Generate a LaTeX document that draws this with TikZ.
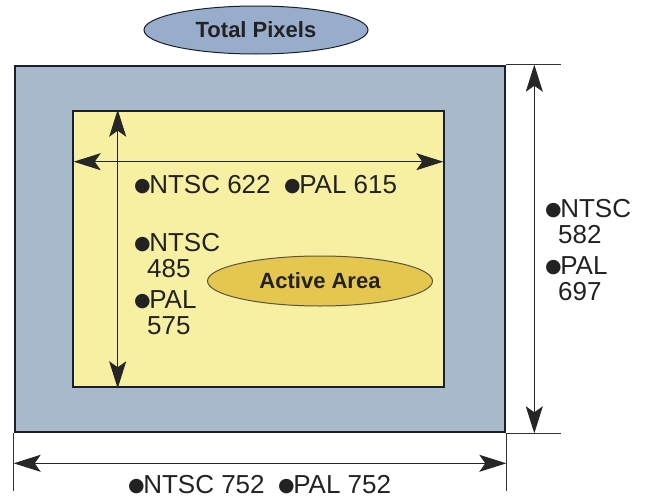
\documentclass[tikz,border=0pt]{standalone}
\usepackage{fontspec}
\setmainfont{Liberation Sans}
\newfontfamily\dejavu{DejaVu Sans}
\usetikzlibrary{arrows.meta,shapes.geometric}
\definecolor{outerfill}{HTML}{A9B9CC}
\definecolor{outerline}{HTML}{1A1F2E}
\definecolor{ellblue}{HTML}{98ADCB}
\definecolor{innerfill}{HTML}{F7EFA2}
\definecolor{ellgold}{HTML}{E5C64E}
\definecolor{textc}{HTML}{222222}
\newcommand{\bul}{\raisebox{1.5pt}{\dejavu\fontsize{19}{19}\selectfont ●}\kern-1.5pt}
\tikzset{
  outerbox/.style={draw=outerline, line width=2.6pt, fill=outerfill, inner sep=0pt},
  innerbox/.style={draw=outerline, line width=2.6pt, fill=innerfill, inner sep=0pt},
  titleell/.style={ellipse, draw=outerline, line width=1pt, fill=ellblue, inner sep=0pt,
     minimum width=224pt, minimum height=48pt, font=\fontsize{22}{22}\selectfont\bfseries, text=textc},
  activeell/.style={ellipse, draw=black!75!yellow, line width=1pt, fill=ellgold, inner sep=0pt,
     minimum width=225pt, minimum height=50pt, font=\fontsize{22}{22}\selectfont\bfseries, text=textc},
  dimline/.style={line width=0.9pt, draw=black!80},
  dimarrow/.style={line width=0.9pt, draw=black!85, {Stealth[length=27pt,width=17pt,inset=6pt]}-{Stealth[length=27pt,width=17pt,inset=6pt]}},
  lbl/.style={anchor=base west, inner sep=0pt, text=textc,
     font=\fontsize{26}{26}\selectfont},
}
\begin{document}
\begin{tikzpicture}[x=1pt,y=-1pt]
\useasboundingbox (0,0) rectangle (648,498);
\fill[white] (0,0) rectangle (648,498);
% boxes
\node[outerbox, minimum width=490pt, minimum height=366pt] (outer) at (260,249) {};
\node[innerbox, minimum width=371pt, minimum height=276pt] (inner) at (258.5,249) {};
% ellipses
\node[titleell] (total) at (256,30) {Total Pixels};
\node[activeell] (active) at (320,281) {Active Area};
% extension lines
\coordinate (tr) at (outer.north east);
\coordinate (br) at (outer.south east);
\coordinate (bl) at (outer.south west);
\path (tr) ++(55,0) coordinate (trx);
\path (br) ++(55,0) coordinate (brx);
\path (bl) ++(0,58) coordinate (bly);
\path (br) ++(0,58) coordinate (bry);
\draw[dimline] (tr) -- (trx);
\draw[dimline] (br) -- (brx);
\draw[dimline] (bl) -- (bly);
\draw[dimline] (br) -- (bry);
% outer dimension arrows
\path (tr) ++(28,0) coordinate (vtop);
\path (br) ++(28,0) coordinate (vbot);
\draw[dimarrow] (vtop) -- (vbot);
\path (bl) ++(0,30) coordinate (hleft);
\path (br) ++(0,30) coordinate (hright);
\draw[dimarrow] (hleft) -- (hright);
% inner dimension arrows
\path (inner.north west) ++(46,0) coordinate (ivtop);
\path (inner.south west) ++(46,0) coordinate (ivbot);
\draw[dimarrow] (ivtop) -- (ivbot);
\path (inner.north west) ++(2,52) coordinate (ihl);
\path (inner.north east) ++(-2,52) coordinate (ihr);
\draw[dimarrow] (ihl) -- (ihr);
% labels
\node[lbl] (l622) at (134,193) {\bul NTSC 622};
\node[lbl] (l615) at (284,193) {\bul PAL 615};
\node[lbl] (l485a) at (134,251) {\bul NTSC};
\node[lbl] (l485b) at (147,277) {485};
\node[lbl] (l575a) at (134,308) {\bul PAL};
\node[lbl] (l575b) at (147,334) {575};
\node[lbl] (l582a) at (545,217) {\bul NTSC};
\node[lbl] (l582b) at (558,243) {582};
\node[lbl] (l697a) at (545,274) {\bul PAL};
\node[lbl] (l697b) at (558,300) {697};
\node[lbl] (l752a) at (128,493) {\bul NTSC 752};
\node[lbl] (l752b) at (278,493) {\bul PAL 752};
\end{tikzpicture}
\end{document}
